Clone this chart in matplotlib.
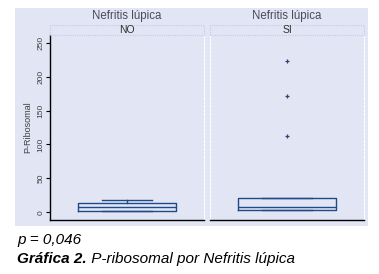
import matplotlib
matplotlib.use("Agg")
import matplotlib.pyplot as plt
from matplotlib.patches import Rectangle

plt.rcParams['font.family'] = ['Liberation Sans', 'DejaVu Sans']

groups = ["NO", "SI"]
facet_title = "Nefritis lúpica"
q1 = [2.5, 4.0]
med = [8.0, 8.5]
q3 = [13.0, 20.5]
whislo = [2.5, 3.0]
whishi = [17.5, 20.5]
fliers = [[], [113, 172, 223]]
yticks = [0, 50, 100, 150, 200, 250]
ylabel = "P-Ribosomal"
pvalue_text = "p = 0,046"
caption_bold = "Gráfica 2."
caption_rest = " P-ribosomal por Nefritis lúpica"

W, H = 379, 274
fig = plt.figure(figsize=(W / 100, H / 100), dpi=100)
fig.patch.set_facecolor("white")

bg = "#e2e5f4"
fig.patches.append(Rectangle((15 / W, 1 - 226 / H), (368 - 15) / W, (226 - 8) / H,
                             transform=fig.transFigure, facecolor=bg, edgecolor="none", zorder=-10))

box_color = "#1f4a8a"
panels_x = [50, 210]
pw = 154
top, bottom = 35, 220
for i, g in enumerate(groups):
    ax = fig.add_axes([panels_x[i] / W, 1 - bottom / H, pw / W, (bottom - top) / H])
    ax.set_facecolor(bg)
    stats = [dict(med=med[i], q1=q1[i], q3=q3[i], whislo=whislo[i], whishi=whishi[i],
                  fliers=fliers[i])]
    ax.bxp(stats, positions=[0], widths=0.64, showcaps=True,
           boxprops=dict(color=box_color, linewidth=1.0),
           medianprops=dict(color=box_color, linewidth=1.0),
           whiskerprops=dict(color=box_color, linewidth=1.0),
           capprops=dict(color=box_color, linewidth=1.0),
           flierprops=dict(marker="+", markeredgecolor="#34406e", markersize=2.5, markeredgewidth=0.9))
    ax.set_xlim(-0.5, 0.5)
    ax.set_ylim(-11.4, 261.5)
    ax.set_xticks([])
    ax.spines['top'].set_visible(False)
    ax.spines['right'].set_color("white")
    ax.spines['right'].set_linewidth(0.8)
    ax.spines['right'].set_linestyle((0, (2, 1.5)))
    ax.spines['bottom'].set_color("black")
    ax.spines['bottom'].set_linewidth(1.0)
    if i == 0:
        ax.spines['left'].set_color("black")
        ax.spines['left'].set_linewidth(1.0)
        ax.set_yticks(yticks)
        ax.set_yticklabels([str(t) for t in yticks], rotation=90, va="center",
                           fontsize=6, color="#404040")
        ax.tick_params(axis="y", length=3, width=0.8, pad=1)
        ax.set_ylabel(ylabel, fontsize=6.5, color="#404040", labelpad=4)
    else:
        ax.spines['left'].set_color("white")
        ax.spines['left'].set_linewidth(0.8)
        ax.spines['left'].set_linestyle((0, (2, 1.5)))
        ax.set_yticks([])
    # strip
    fig.patches.append(Rectangle((panels_x[i] / W, 1 - 35 / H), pw / W, 10 / H,
                                 transform=fig.transFigure, facecolor="none",
                                 edgecolor="#c4ccec", linestyle=(0, (1, 1)), linewidth=0.8))
    cx = (panels_x[i] + pw / 2) / W
    fig.text(cx, 1 - 30 / H, g, ha="center", va="center", fontsize=7.5, color="#303030")
    fig.text(cx, 1 - 15.5 / H, facet_title, ha="center", va="center", fontsize=8.3, color="#4a4a5a")

fig.text(17 / W, 1 - 240 / H, pvalue_text, ha="left", va="center", fontsize=11,
         style="italic", color="black")
t = fig.text(17 / W, 1 - 259 / H, caption_bold, ha="left", va="center", fontsize=11,
             style="italic", weight="bold", color="black")
fig.canvas.draw()
bb = t.get_window_extent()
fig.text(bb.x1 / W, 1 - 259 / H, caption_rest, ha="left", va="center", fontsize=11,
         style="italic", color="black")

fig.savefig("out.png", dpi=100)
